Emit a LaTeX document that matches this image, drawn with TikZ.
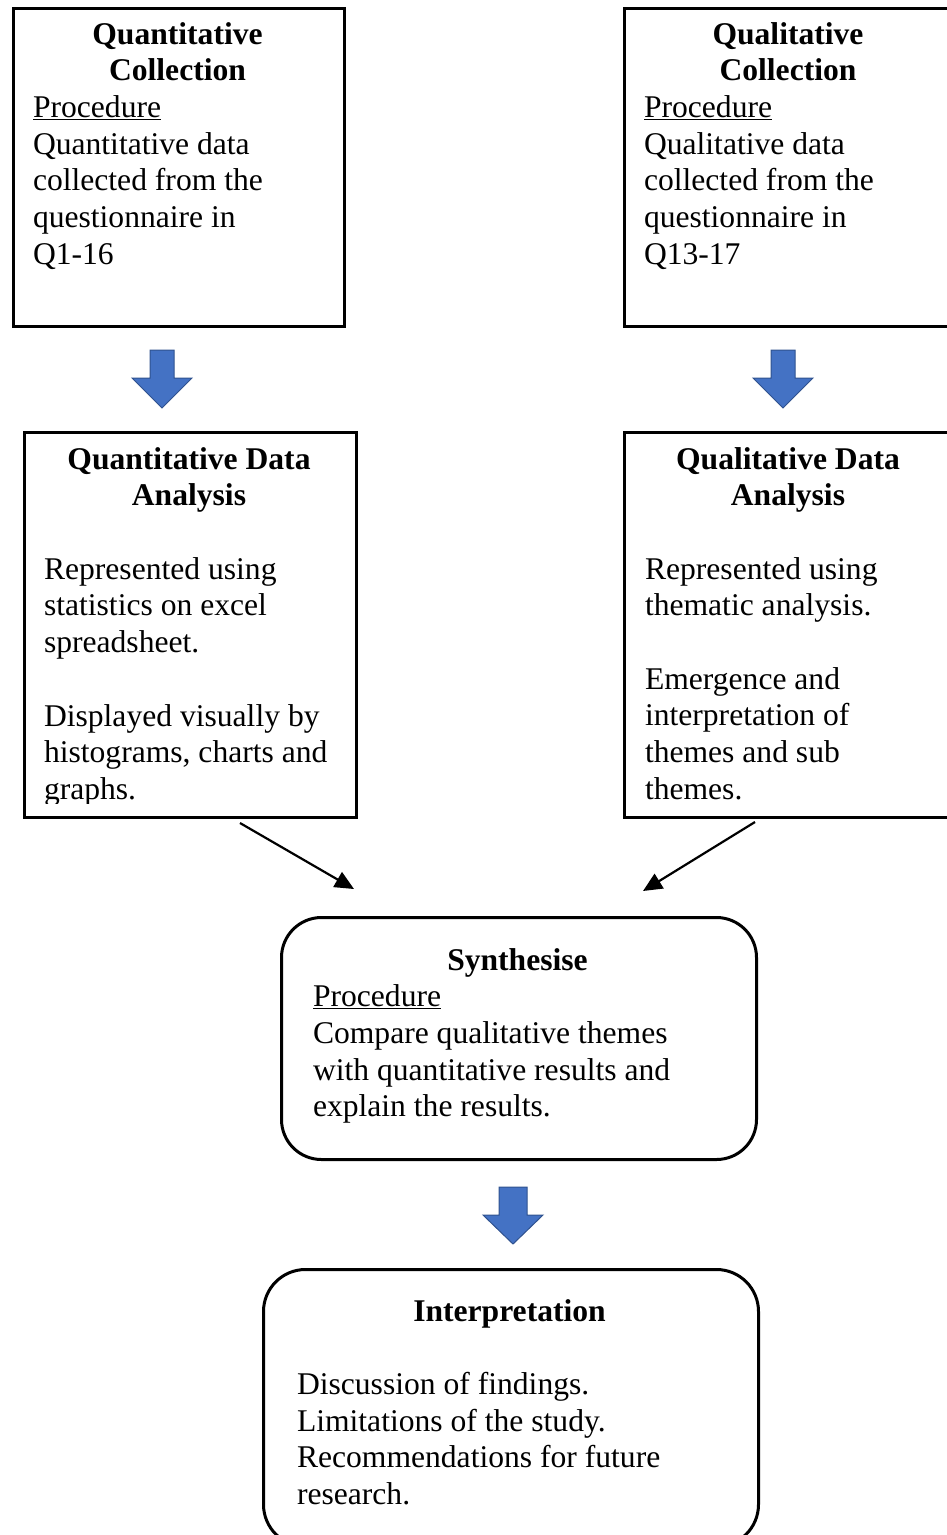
\documentclass[tikz,border=0pt]{standalone}
\usepackage{fontspec}
\setmainfont{Liberation Serif}
\usetikzlibrary{arrows.meta}

\definecolor{arrowblue}{HTML}{4472C4}
\definecolor{arrowedge}{HTML}{2F528F}

\tikzset{
  txt/.style={inner sep=0pt, outer sep=0pt, font=\fontsize{31.6}{36.7}\selectfont},
  head/.style={txt, font=\fontsize{31.6}{36.7}\selectfont\bfseries, anchor=base},
  body/.style={txt, anchor=base west},
  sqbox/.style={draw, line width=2.5pt, inner sep=0pt, anchor=north west},
  rbox/.style={sqbox, rounded corners=40pt, line width=3pt},
  blockarrow/.style={fill=arrowblue, draw=arrowedge, line width=1pt, line join=miter},
  conn/.style={line width=2.2pt, -{Triangle[length=19pt,width=17pt]}},
}

\begin{document}
\begin{tikzpicture}[x=1pt, y=-1pt]
  \useasboundingbox (0,0) rectangle (947,1535);
  \clip (0,0) rectangle (947,1535);

  % ---- collection boxes ----
  \node[sqbox, minimum width=331pt, minimum height=318pt] (qc) at (12,7) {};
  \node[sqbox, minimum width=330pt, minimum height=318pt] (lc) at (623,7) {};

  \node[head] (qc-h1) at (177.5,44) {Quantitative};
  \node[head] (qc-h2) at (177.5,80.7) {Collection};
  \foreach \y/\t [count=\i] in {{117.4/\underline{Procedure}}, {154.1/Quantitative data},
      {190.8/collected from the}, {227.5/questionnaire in}, {264.2/Q1-16}}
    \node[body] (qc-b\i) at (33,\y) {\t};

  \node[head] (lc-h1) at (788,44) {Qualitative};
  \node[head] (lc-h2) at (788,80.7) {Collection};
  \foreach \y/\t [count=\i] in {{117.4/\underline{Procedure}}, {154.1/Qualitative data},
      {190.8/collected from the}, {227.5/questionnaire in}, {264.2/Q13-17}}
    \node[body] (lc-b\i) at (644,\y) {\t};

  % ---- block arrows into the analysis boxes ----
  \coordinate (ar1) at (162,350);
  \coordinate (ar2) at (783,350);
  \foreach \c in {ar1, ar2}
    \draw[blockarrow, shift={(\c)}] (-12,0) -- (12,0) -- (12,28) -- (30,28)
      -- (0,58) -- (-30,28) -- (-12,28) -- cycle;

  % ---- analysis boxes ----
  \node[sqbox, minimum width=332pt, minimum height=385pt] (qa) at (23,431) {};
  \node[sqbox, minimum width=330pt, minimum height=385pt] (la) at (623,431) {};

  \node[head] (qa-h1) at (189,469) {Quantitative Data};
  \node[head] (qa-h2) at (189,505.7) {Analysis};
  \begin{scope}
    \clip (23,431) rectangle (355,803);
    \foreach \y/\t [count=\i] in {{579/Represented using}, {615.7/statistics on excel},
        {652.4/spreadsheet.}, {726/Displayed visually by},
        {762.7/histograms, charts and}, {799.4/graphs.}}
      \node[body] (qa-b\i) at (44,\y) {\t};
  \end{scope}

  \node[head] (la-h1) at (788,469) {Qualitative Data};
  \node[head] (la-h2) at (788,505.7) {Analysis};
  \foreach \y/\t [count=\i] in {{579/Represented using}, {615.7/thematic analysis.},
      {689/Emergence and}, {725.8/interpretation of},
      {762.5/themes and sub}, {799.2/themes.}}
    \node[body] (la-b\i) at (645,\y) {\t};

  % ---- connectors into the synthesis ----
  \coordinate (l1s) at (240,823);
  \coordinate (l1e) at (354,889);
  \coordinate (l2s) at (755,822);
  \coordinate (l2e) at (643,891);
  \draw[conn] (l1s) -- (l1e);
  \draw[conn] (l2s) -- (l2e);

  % ---- synthesis ----
  \node[rbox, minimum width=475pt, minimum height=242pt] (syn) at (280,916) {};
  \node[head] (syn-h) at (517.5,970) {Synthesise};
  \foreach \y/\t [count=\i] in {{1006.7/\underline{Procedure}},
      {1043.4/Compare qualitative themes}, {1080.1/with quantitative results and},
      {1116.8/explain the results.}}
    \node[body] (syn-b\i) at (313,\y) {\t};

  % ---- block arrow into the interpretation ----
  \coordinate (ar3) at (513,1187);
  \draw[blockarrow, shift={(ar3)}] (-14,0) -- (14,0) -- (14,28) -- (30,28)
    -- (0,57) -- (-30,28) -- (-14,28) -- cycle;

  % ---- interpretation ----
  \node[rbox, rounded corners=42pt, minimum width=495pt, minimum height=277pt] (intp) at (262,1268) {};
  \node[head] (intp-h) at (509.5,1321) {Interpretation};
  \foreach \y/\t [count=\i] in {{1394.4/Discussion of findings.},
      {1431.1/Limitations of the study.}, {1467.8/Recommendations for future},
      {1504.5/research.}}
    \node[body] (intp-b\i) at (297,\y) {\t};
\end{tikzpicture}
\end{document}
